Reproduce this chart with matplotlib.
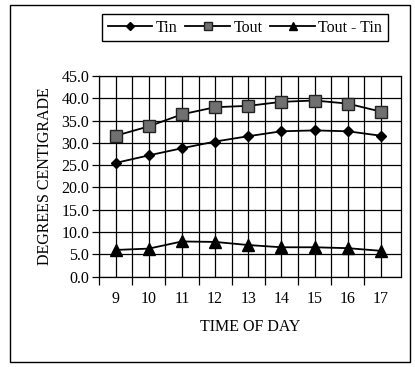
import numpy as np
import matplotlib
matplotlib.use('Agg')
import matplotlib.pyplot as plt
from matplotlib.patches import Rectangle

plt.rcParams['font.family'] = ['Liberation Serif', 'DejaVu Serif']

# data
hours = [9, 10, 11, 12, 13, 14, 15, 16, 17]
t_in = [25.5, 27.2, 28.8, 30.3, 31.5, 32.6, 32.8, 32.6, 31.6]
t_out = [31.6, 33.7, 36.4, 38.0, 38.3, 39.2, 39.5, 38.8, 37.0]
t_diff = [6.0, 6.3, 7.9, 7.8, 7.1, 6.6, 6.6, 6.4, 5.8]

fig = plt.figure(figsize=(4.15, 3.67), dpi=100)
ax = fig.add_axes([0.2386, 0.246, 0.966 - 0.2386, 0.793 - 0.246])

ax.plot(hours, t_in, color='black', lw=1.3, marker='D', ms=5.5,
        mfc='black', mec='black', label='Tin', zorder=3)
ax.plot(hours, t_out, color='black', lw=1.3, marker='s', ms=8,
        mfc='#707070', mec='#222222', label='Tout', zorder=3)
ax.plot(hours, t_diff, color='black', lw=1.3, marker='^', ms=8,
        mfc='black', mec='black', label='Tout - Tin', zorder=3)

ax.set_xlim(8.5, 17.6)
ax.set_ylim(0, 45)

# grid: horizontal every 5, vertical every half hour
ax.set_yticks(np.arange(0, 46, 5))
ax.set_yticklabels(['%.1f' % v for v in np.arange(0, 46, 5)], fontsize=11.5)
ax.set_xticks(hours)
ax.set_xticklabels([str(h) for h in hours], fontsize=11.5)
ax.set_xticks(np.arange(8.5, 17.1, 0.5), minor=True)
ax.tick_params(axis='x', which='major', length=0, pad=10)
ax.tick_params(axis='x', which='minor', length=6, width=0.9, direction='out')
ax.tick_params(axis='y', length=5, width=0.9, direction='out', pad=2)

ax.grid(True, which='major', axis='y', color='black', lw=0.9)
ax.grid(True, which='minor', axis='x', color='black', lw=0.9)
ax.grid(True, which='major', axis='x', color='black', lw=0.9)
ax.set_axisbelow(True)
for s in ax.spines.values():
    s.set_color('black')
    s.set_linewidth(0.9)

ax.set_ylabel('DEGREES CENTIGRADE', fontsize=11.5, labelpad=6)
ax.set_xlabel('TIME OF DAY', fontsize=11.5, labelpad=9)

leg = fig.legend(loc='center', bbox_to_anchor=(0.59, 0.924), ncol=3,
                 fontsize=11.5, frameon=True, fancybox=False,
                 edgecolor='black', framealpha=1, handlelength=2.8,
                 handletextpad=0.2, columnspacing=0.5, borderpad=0.35,
                 markerscale=0.75)
leg.get_frame().set_linewidth(1.0)

# outer border of the chart area
fig.patches.append(Rectangle((0.024, 0.0136), 0.964, 0.972,
                             transform=fig.transFigure, fill=False,
                             edgecolor='black', lw=1.0))

plt.savefig('out.png', dpi=100)
plt.close()
